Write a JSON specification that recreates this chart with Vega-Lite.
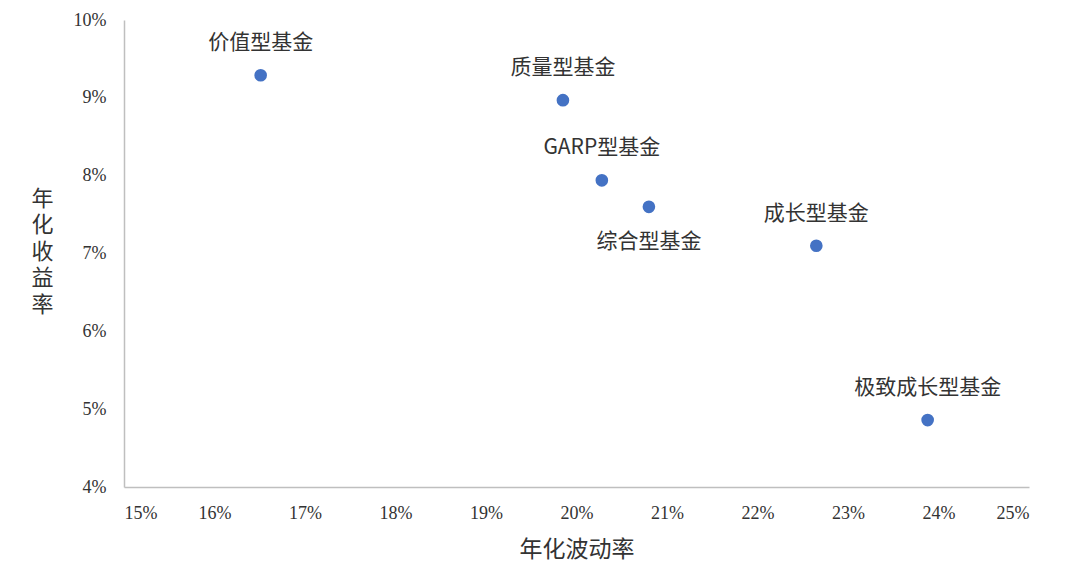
{
  "$schema": "https://vega.github.io/schema/vega-lite/v6.json",
  "autosize": "none",
  "width": 905,
  "height": 467,
  "padding": {"left": 124, "top": 20, "right": 51, "bottom": 91},
  "background": "white",
  "config": {"view": {"stroke": null}, "font": "Liberation Serif, Noto Sans CJK SC"},
  "data": {"values": [
    {"name": "价值型基金", "vol": 0.1651, "ret": 0.0929},
    {"name": "质量型基金", "vol": 0.1985, "ret": 0.0897},
    {"name": "GARP型基金", "vol": 0.2028, "ret": 0.0794},
    {"name": "综合型基金", "vol": 0.2080, "ret": 0.0760},
    {"name": "成长型基金", "vol": 0.2265, "ret": 0.0710},
    {"name": "极致成长型基金", "vol": 0.2388, "ret": 0.0486}
  ]},
  "encoding": {
    "x": {"field": "vol", "type": "quantitative",
      "scale": {"domain": [0.15, 0.25], "nice": false, "zero": false},
      "axis": {"values": [0.15,0.16,0.17,0.18,0.19,0.2,0.21,0.22,0.23,0.24,0.25], "format": ".0%",
        "title": "年化波动率", "titleFont": "Noto Sans CJK SC", "titleFontSize": 23, "titleFontWeight": "normal", "titleColor": "#333333", "titlePadding": 16,
        "labelFont": "Liberation Serif", "labelFontSize": 18, "labelColor": "#333333", "labelPadding": 17,
        "grid": false, "ticks": false, "domainColor": "#bfbfbf", "domainWidth": 1.5}},
    "y": {"field": "ret", "type": "quantitative",
      "scale": {"domain": [0.04, 0.10], "nice": false, "zero": false},
      "axis": {"values": [0.04,0.05,0.06,0.07,0.08,0.09,0.1], "format": ".0%",
        "title": ["年","化","收","益","率"], "titleAngle": 0, "titleFont": "Noto Sans CJK SC", "titleFontSize": 22, "titleLineHeight": 26.5, "titleFontWeight": "normal", "titleColor": "#333333", "titleAlign": "center", "titleBaseline": "middle", "titleX": -82, "titleY": 178,
        "labelFont": "Liberation Serif", "labelFontSize": 18, "labelColor": "#333333", "labelPadding": 18,
        "grid": false, "ticks": false, "domainColor": "#bfbfbf", "domainWidth": 1.5}}
  },
  "layer": [
    {"mark": {"type": "point", "filled": true, "size": 160, "color": "#4472C4", "opacity": 1}},
    {"transform": [{"filter": "datum.name !== '综合型基金'"}],
     "mark": {"type": "text", "font": "Noto Sans CJK SC", "fontSize": 21, "color": "#333333", "baseline": "middle", "dy": -32},
     "encoding": {"text": {"field": "name"}}},
    {"transform": [{"filter": "datum.name === '综合型基金'"}],
     "mark": {"type": "text", "font": "Noto Sans CJK SC", "fontSize": 21, "color": "#333333", "baseline": "middle", "dy": 35},
     "encoding": {"text": {"field": "name"}}}
  ]
}
